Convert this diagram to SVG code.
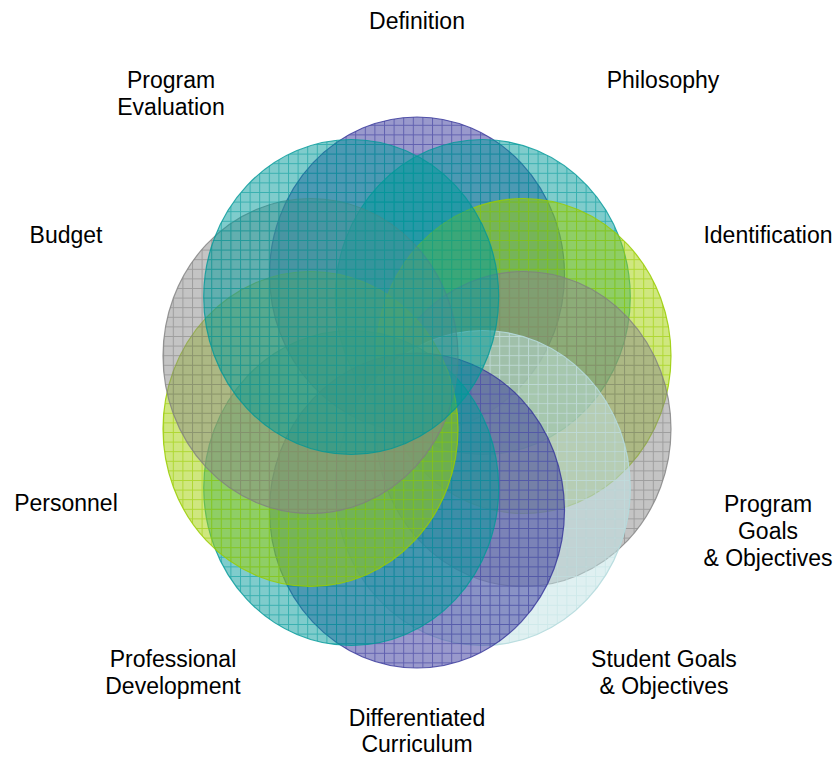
<svg xmlns="http://www.w3.org/2000/svg" width="838" height="757" viewBox="0 0 838 757">
<style>
  .lbl { font-family: "Liberation Sans", Arial, sans-serif; font-size: 23px; fill: #000; text-anchor: middle; }
  .c { stroke-width: 1.2; }
</style>
<defs>
  <pattern id="pPurple" width="9.6" height="9.6" patternUnits="userSpaceOnUse">
    <rect width="9.6" height="9.6" fill="#333399" fill-opacity="0.5"/>
    <path d="M0 0.5H9.6M0.5 0V9.6" stroke="#333399" stroke-opacity="0.55" stroke-width="1" fill="none"/>
  </pattern>
  <pattern id="pTeal" width="9.6" height="9.6" patternUnits="userSpaceOnUse">
    <rect width="9.6" height="9.6" fill="#009999" fill-opacity="0.5"/>
    <path d="M0 0.5H9.6M0.5 0V9.6" stroke="#009999" stroke-opacity="0.55" stroke-width="1" fill="none"/>
  </pattern>
  <pattern id="pLime" width="9.6" height="9.6" patternUnits="userSpaceOnUse">
    <rect width="9.6" height="9.6" fill="#a0d000" fill-opacity="0.5"/>
    <path d="M0 0.5H9.6M0.5 0V9.6" stroke="#99cc00" stroke-opacity="0.6" stroke-width="1" fill="none"/>
  </pattern>
  <pattern id="pGray" width="9.6" height="9.6" patternUnits="userSpaceOnUse">
    <rect width="9.6" height="9.6" fill="#8a8a8a" fill-opacity="0.5"/>
    <path d="M0 0.5H9.6M0.5 0V9.6" stroke="#808080" stroke-opacity="0.55" stroke-width="1" fill="none"/>
  </pattern>
  <pattern id="pCyan" width="9.6" height="9.6" patternUnits="userSpaceOnUse">
    <rect width="9.6" height="9.6" fill="#bfe1e3" fill-opacity="0.5"/>
    <path d="M0 0.5H9.6M0.5 0V9.6" stroke="#c8e6e8" stroke-opacity="0.7" stroke-width="1" fill="none"/>
  </pattern>
</defs>

<g id="node-definition">
  <ellipse class="c" cx="417" cy="274.5" rx="147.5" ry="157.5" fill="url(#pPurple)" stroke="#333399" stroke-opacity="0.8"/>
  <text class="lbl" x="417" y="29">Definition</text>
</g>
<g id="node-philosophy">
  <ellipse class="c" cx="482.8" cy="297" rx="147.5" ry="157.5" fill="url(#pTeal)" stroke="#009999" stroke-opacity="0.8"/>
  <text class="lbl" x="663" y="88">Philosophy</text>
</g>
<g id="node-identification">
  <ellipse class="c" cx="523.5" cy="356" rx="147.5" ry="157.5" fill="url(#pLime)" stroke="#99cc00" stroke-opacity="0.85"/>
  <text class="lbl" x="768" y="243">Identification</text>
</g>
<g id="node-program-goals">
  <ellipse class="c" cx="523.5" cy="429" rx="147.5" ry="157.5" fill="url(#pGray)" stroke="#808080" stroke-opacity="0.8"/>
  <text class="lbl" x="768" y="512">Program</text>
  <text class="lbl" x="768" y="539">Goals</text>
  <text class="lbl" x="768" y="566">&amp; Objectives</text>
</g>
<g id="node-student-goals">
  <ellipse class="c" cx="482.8" cy="488" rx="147.5" ry="157.5" fill="url(#pCyan)" stroke="#b5dadd" stroke-opacity="0.9"/>
  <text class="lbl" x="664" y="667">Student Goals</text>
  <text class="lbl" x="664" y="694">&amp; Objectives</text>
</g>
<g id="node-differentiated-curriculum">
  <ellipse class="c" cx="417" cy="510.5" rx="147.5" ry="157.5" fill="url(#pPurple)" stroke="#333399" stroke-opacity="0.8"/>
  <text class="lbl" x="417" y="726">Differentiated</text>
  <text class="lbl" x="417" y="752">Curriculum</text>
</g>
<g id="node-professional-development">
  <ellipse class="c" cx="351.2" cy="488" rx="147.5" ry="157.5" fill="url(#pTeal)" stroke="#009999" stroke-opacity="0.8"/>
  <text class="lbl" x="173" y="667">Professional</text>
  <text class="lbl" x="173" y="694">Development</text>
</g>
<g id="node-personnel">
  <ellipse class="c" cx="310.5" cy="429" rx="147.5" ry="157.5" fill="url(#pLime)" stroke="#99cc00" stroke-opacity="0.85"/>
  <text class="lbl" x="66" y="511">Personnel</text>
</g>
<g id="node-budget">
  <ellipse class="c" cx="310.5" cy="356" rx="147.5" ry="157.5" fill="url(#pGray)" stroke="#808080" stroke-opacity="0.8"/>
  <text class="lbl" x="66" y="243">Budget</text>
</g>
<g id="node-program-evaluation">
  <ellipse class="c" cx="351.2" cy="297" rx="147.5" ry="157.5" fill="url(#pTeal)" stroke="#009999" stroke-opacity="0.8"/>
  <text class="lbl" x="171" y="88">Program</text>
  <text class="lbl" x="171" y="115">Evaluation</text>
</g>
<g id="connectors"></g>
</svg>
